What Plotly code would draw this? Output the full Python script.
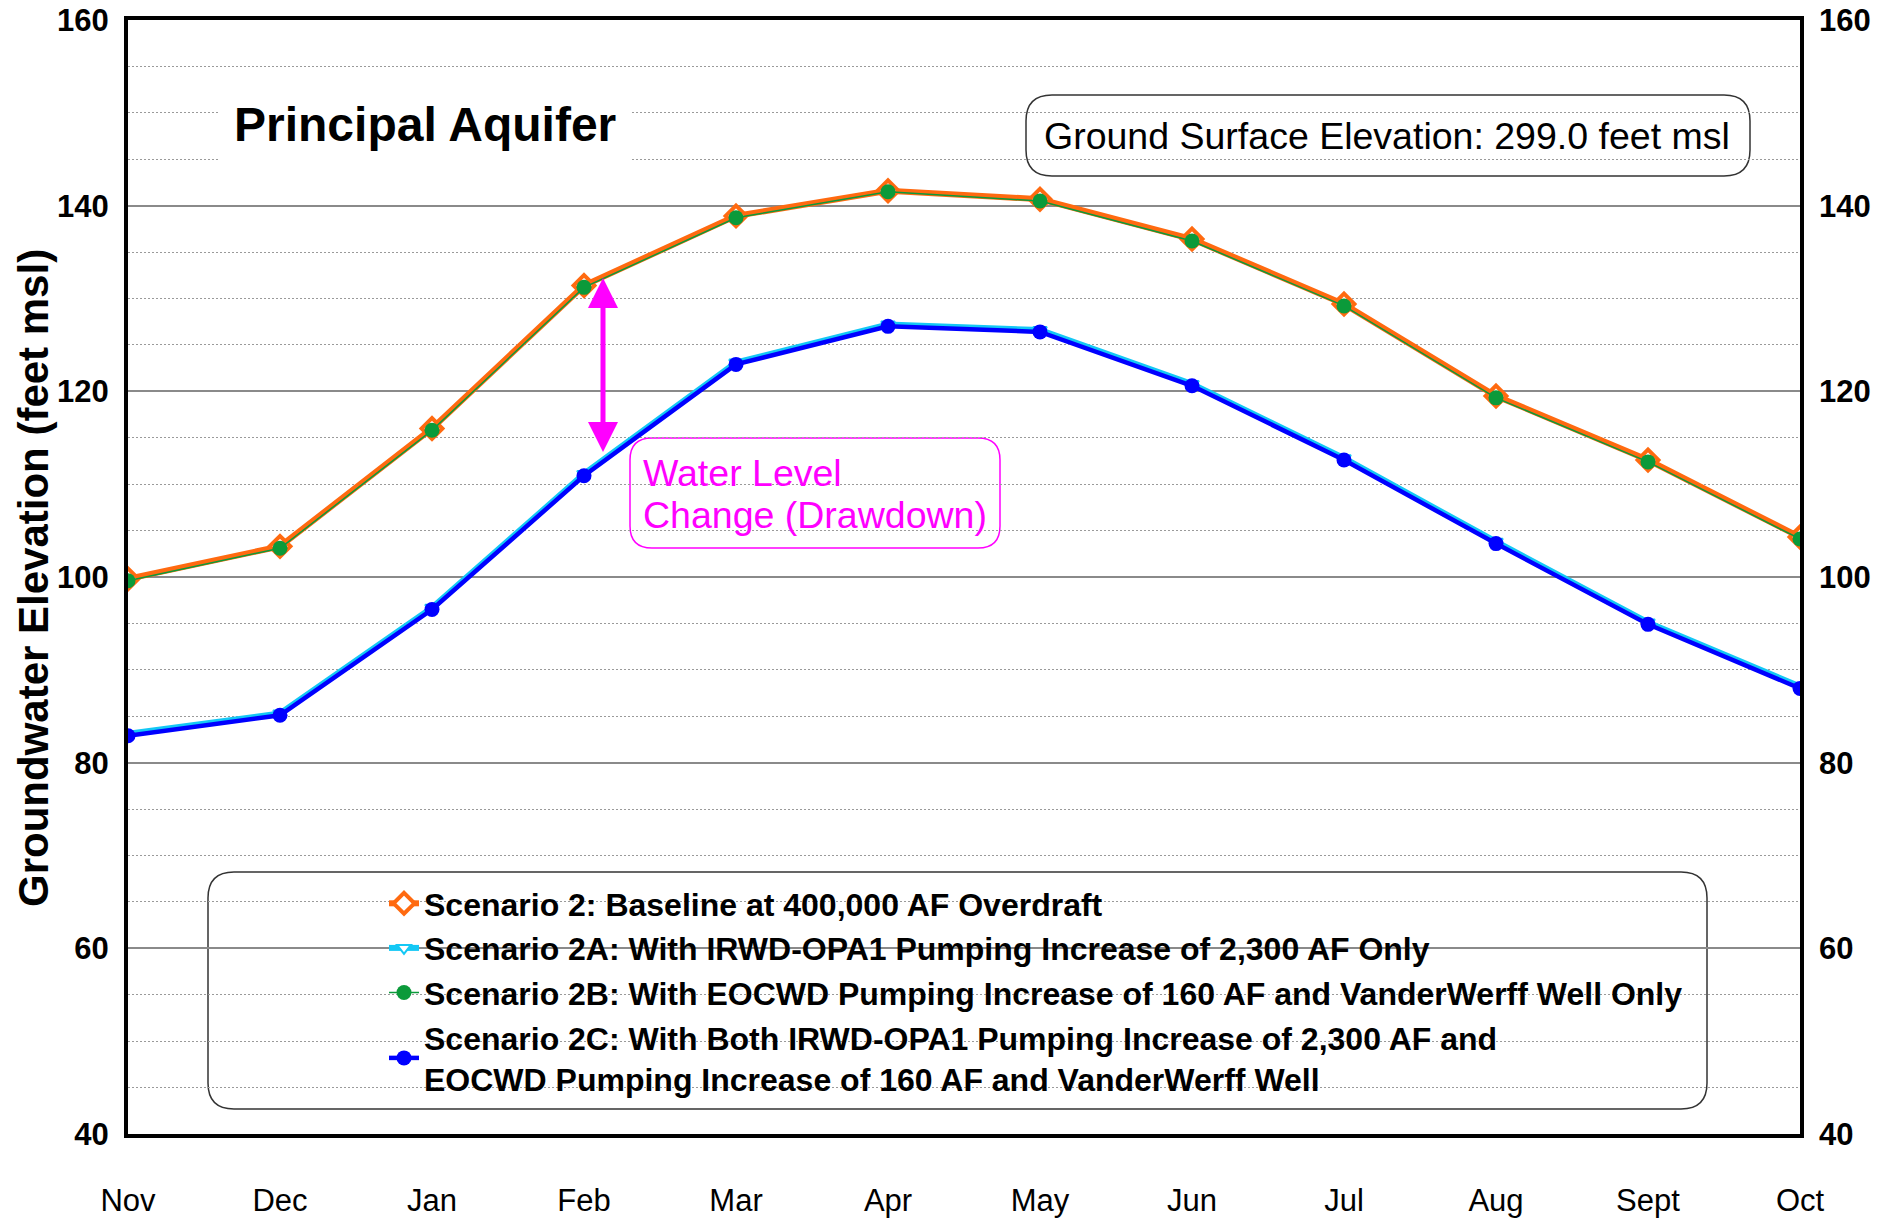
import plotly.graph_objects as go

# Monthly groundwater elevations (feet msl), Principal Aquifer
months = ["Nov", "Dec", "Jan", "Feb", "Mar", "Apr", "May", "Jun", "Jul", "Aug", "Sept", "Oct"]
scenario_2 = [99.8, 103.3, 116.0, 131.4, 138.9, 141.6, 140.7, 136.4, 129.4, 119.5, 112.6, 104.3]
scenario_2a = [83.1, 85.3, 96.7, 111.1, 123.1, 127.2, 126.6, 120.8, 112.8, 103.8, 95.1, 88.2]
scenario_2b = [99.6, 103.1, 115.8, 131.2, 138.7, 141.5, 140.5, 136.2, 129.2, 119.3, 112.4, 104.1]
scenario_2c = [82.9, 85.1, 96.5, 110.9, 122.9, 127.0, 126.4, 120.6, 112.6, 103.6, 94.9, 88.0]

series_names = [
    "Scenario 2: Baseline at 400,000 AF Overdraft",
    "Scenario 2A: With IRWD-OPA1 Pumping Increase of 2,300 AF Only",
    "Scenario 2B: With EOCWD Pumping Increase of 160 AF and VanderWerff Well Only",
    "Scenario 2C: With Both IRWD-OPA1 Pumping Increase of 2,300 AF and<br>"
    "EOCWD Pumping Increase of 160 AF and VanderWerff Well",
]

y_ticks = [40, 60, 80, 100, 120, 140, 160]
ground_surface = 299.0
drawdown_month = 3.125          # arrow placed just right of Feb
drawdown_top, drawdown_bottom = 132.2, 113.3

FONT = "Liberation Sans, Arial, sans-serif"
W, H = 1894, 1219
ML, MR, MT, MB = 128, 94, 20, 85
PW, PH = W - ML - MR, H - MT - MB


def px(x):
    return (x - ML) / PW


def py(y):
    return (H - MB - y) / PH


def rounded_box(x0, y0, x1, y1, r, line_color, line_width):
    X0, X1, Y0, Y1 = px(x0), px(x1), py(y0), py(y1)
    rx, ry = r / PW, r / PH
    path = (
        f"M{X0 + rx},{Y0} L{X1 - rx},{Y0} Q{X1},{Y0} {X1},{Y0 - ry} "
        f"L{X1},{Y1 + ry} Q{X1},{Y1} {X1 - rx},{Y1} "
        f"L{X0 + rx},{Y1} Q{X0},{Y1} {X0},{Y1 + ry} "
        f"L{X0},{Y0 - ry} Q{X0},{Y0} {X0 + rx},{Y0} Z"
    )
    return dict(type="path", path=path, xref="paper", yref="paper",
                fillcolor="white", layer="between",
                line=dict(color=line_color, width=line_width))


fig = go.Figure()

fig.add_trace(go.Scatter(
    x=months, y=scenario_2, name=series_names[0], mode="lines+markers",
    line=dict(color="#FF6A10", width=6),
    marker=dict(symbol="diamond", size=16, color="white",
                line=dict(color="#FF6A10", width=4)),
))
fig.add_trace(go.Scatter(
    x=months, y=scenario_2a, name=series_names[1], mode="lines+markers",
    yaxis="y2",
    line=dict(color="#14C8F5", width=6),
    marker=dict(symbol="triangle-down", size=12, color="white",
                line=dict(color="#14C8F5", width=2)),
))
fig.add_trace(go.Scatter(
    x=months, y=scenario_2b, name=series_names[2], mode="lines+markers",
    line=dict(color="#0B9A3A", width=1.5),
    marker=dict(symbol="circle", size=15, color="#0B9A3A"),
))
fig.add_trace(go.Scatter(
    x=months, y=scenario_2c, name=series_names[3], mode="lines+markers",
    yaxis="y2",
    line=dict(color="#0000FF", width=4.5),
    marker=dict(symbol="circle", size=15, color="#0000FF"),
))

axis_font = dict(family=FONT, size=31, color="black", weight="bold")

fig.update_layout(
    width=W, height=H,
    margin=dict(l=ML, r=MR, t=MT, b=MB, autoexpand=False),
    paper_bgcolor="white", plot_bgcolor="white",
    font=dict(family=FONT, color="black"),
    xaxis=dict(
        type="category", range=[0, 11], showgrid=False, zeroline=False,
        showline=True, linecolor="black", linewidth=4, mirror=True,
        ticks="", ticklabelstandoff=36, automargin=False,
        tickfont=dict(family=FONT, size=31, color="black"),
    ),
    yaxis=dict(
        range=[40, 160], tickvals=y_ticks, zeroline=False,
        showline=True, linecolor="black", linewidth=4, mirror=True,
        ticks="", ticklabelstandoff=9, tickfont=axis_font, automargin=False,
        showgrid=True, gridcolor="#8a8a8a", gridwidth=2,
        minor=dict(dtick=5, showgrid=True, gridcolor="#9a9a9a",
                   gridwidth=1, griddash="2px,2px"),
    ),
    yaxis2=dict(
        range=[40, 160], matches="y", tickvals=y_ticks, overlaying="y",
        side="right", showgrid=False, zeroline=False, showline=False,
        ticks="", ticklabelstandoff=18, tickfont=axis_font, automargin=False,
    ),
    showlegend=True,
    legend=dict(
        x=px(384), y=py(876), xanchor="left", yanchor="top",
        bgcolor="rgba(0,0,0,0)", borderwidth=0, traceorder="normal",
        font=dict(family=FONT, size=32, color="black", weight="bold"),
        valign="middle",
    ),
    shapes=[
        rounded_box(208, 872, 1707, 1109, 26, "#333333", 1.5),
        rounded_box(1026, 95, 1750, 176, 26, "#333333", 1.5),
        rounded_box(630, 438, 1000, 548, 22, "#FF00FF", 1.5),
    ],
    annotations=[
        dict(text="Groundwater Elevation (feet msl)", textangle=-90,
             xref="paper", yref="paper", x=px(33), y=py(578),
             xanchor="center", yanchor="middle", showarrow=False,
             font=dict(family=FONT, size=42, color="black", weight="bold")),
        dict(text="Principal Aquifer", xref="paper", yref="paper",
             x=px(425), y=py(125), xanchor="center", yanchor="middle",
             showarrow=False, bgcolor="white", borderpad=14,
             font=dict(family=FONT, size=48, color="black", weight="bold")),
        dict(text=f"Ground Surface Elevation: {ground_surface:.1f} feet msl",
             xref="paper", yref="paper", x=px(1387), y=py(136),
             xanchor="center", yanchor="middle", showarrow=False,
             font=dict(family=FONT, size=37.5, color="black")),
        dict(text="Water Level", align="left",
             xref="paper", yref="paper", x=px(641), y=py(473),
             xanchor="left", yanchor="middle", showarrow=False,
             font=dict(family=FONT, size=37.5, color="#FF00FF")),
        dict(text="Change (Drawdown)", align="left",
             xref="paper", yref="paper", x=px(641), y=py(515),
             xanchor="left", yanchor="middle", showarrow=False,
             font=dict(family=FONT, size=37.5, color="#FF00FF")),
        dict(text="", x=drawdown_month, y=drawdown_top,
             ax=drawdown_month, ay=drawdown_bottom, xref="x", yref="y",
             axref="x", ayref="y", showarrow=True, arrowside="end+start",
             arrowhead=2, arrowsize=1.2, arrowwidth=5, arrowcolor="#FF00FF"),
    ],
)

fig.write_html("out.html")
